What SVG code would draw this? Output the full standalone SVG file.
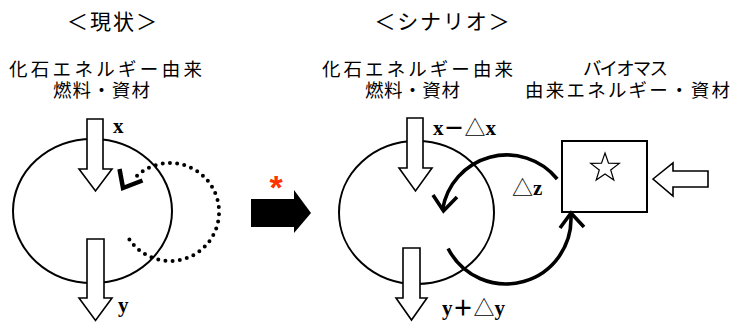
<svg xmlns="http://www.w3.org/2000/svg" width="734" height="322" viewBox="0 0 734 322">
<style>
.jp{font-family:"Liberation Sans","Noto Sans CJK JP",sans-serif;font-size:18.5px;fill:#000;text-anchor:middle}
.tt{font-size:21px}
.lb{font-family:"Liberation Serif","Noto Sans CJK JP",serif;font-weight:bold;font-size:21px;fill:#000}
.tri{font-family:"Noto Sans CJK JP",sans-serif;font-weight:normal}
.ell{fill:none;stroke:#000;stroke-width:2}
.blk{fill:#fff;stroke:#000;stroke-width:1.6;stroke-linejoin:miter}
.thick{fill:none;stroke:#000;stroke-width:3.6}
.head{fill:none;stroke:#000;stroke-width:3.6;stroke-linejoin:miter;stroke-linecap:butt}
</style>
<rect width="734" height="322" fill="#fff"/>

<g id="titles">
<text class="jp tt" x="112" y="28.5" textLength="90">＜現状＞</text>
<text class="jp tt" x="442" y="28.5" textLength="135">＜シナリオ＞</text>
</g>

<g id="fossil-left">
<text class="jp" x="105.5" y="76" textLength="193">化石エネルギー由来</text>
<text class="jp" x="101.5" y="96.5" textLength="97">燃料・資材</text>
</g>

<g id="fossil-right">
<text class="jp" x="417.5" y="76" textLength="191">化石エネルギー由来</text>
<text class="jp" x="412.5" y="96.5" textLength="95">燃料・資材</text>
</g>

<g id="biomass-label">
<text class="jp" x="625.5" y="75" textLength="85">バイオマス</text>
<text class="jp" x="627.5" y="96.5" textLength="205">由来エネルギー・資材</text>
</g>

<g id="current-system">
<ellipse class="ell" cx="92.5" cy="211" rx="79.5" ry="72"/>
</g>

<g id="scenario-system">
<ellipse class="ell" cx="416.5" cy="212.5" rx="77.5" ry="71.5"/>
</g>

<g id="biomass-box">
<rect x="562" y="141" width="85" height="71" fill="#fff" stroke="#000" stroke-width="2"/>
<polygon points="605,153 608.5,163.1 619.3,163.4 610.7,169.9 613.8,180.1 605,174 596.2,180.1 599.3,169.9 590.7,163.4 601.5,163.1" fill="#fff" stroke="#000" stroke-width="1.2"/>
</g>

<g id="transition">
<polygon points="251,199 294,199 294,190 311,213 294,233 294,227 251,227" fill="#000"/>
<text x="276" y="199" font-family="Liberation Sans, sans-serif" font-weight="bold" font-size="34" fill="#ff3300" text-anchor="middle">*</text>
</g>

<g id="connectors">
<!-- current: input / output -->
<polygon class="blk" points="87,119 103,119 103,169 112,169 95.5,191 79,169 87,169"/>
<polygon class="blk" points="87,239 104,239 104,298 112,298 95.5,320.5 79,298 87,298"/>
<!-- current: dotted recycle loop -->
<path d="M129.4,239.4 A49,49 0 1 0 136.6,176.2" fill="none" stroke="#000" stroke-width="4" stroke-linecap="round" stroke-dasharray="0 7.2"/>
<polyline points="119.5,169 123,188 142.5,180.5" fill="none" stroke="#000" stroke-width="4.5" stroke-linejoin="miter"/>
<!-- scenario: input / output -->
<polygon class="blk" points="407,118 423,118 423,168 432,168 415.5,191 399,168 407,168"/>
<polygon class="blk" points="403,248 420,248 420,298 427,298 411.5,320 396,298 403,298"/>
<!-- scenario: exchange with biomass -->
<path class="thick" d="M557.2,179 A65,65 0 0 0 442.5,210"/>
<polyline class="head" points="433,195 443.5,211 457,197"/>
<path class="thick" d="M448.1,248.5 A65,65 0 0 0 570.8,214"/>
<polyline class="head" points="560,228 571,213 584,227"/>
<!-- biomass input -->
<polygon class="blk" points="653,179 673,163 673,171 708,171 708,187 673,187 673,196"/>
</g>

<g id="labels">
<text class="lb" x="113" y="133">x</text>
<text class="lb" x="118" y="312">y</text>
<text class="lb" x="433" y="135">x－<tspan class="tri">△</tspan>x</text>
<text class="lb" x="512" y="195"><tspan class="tri">△</tspan>z</text>
<text class="lb" x="442" y="315">y＋<tspan class="tri">△</tspan>y</text>
</g>
</svg>
